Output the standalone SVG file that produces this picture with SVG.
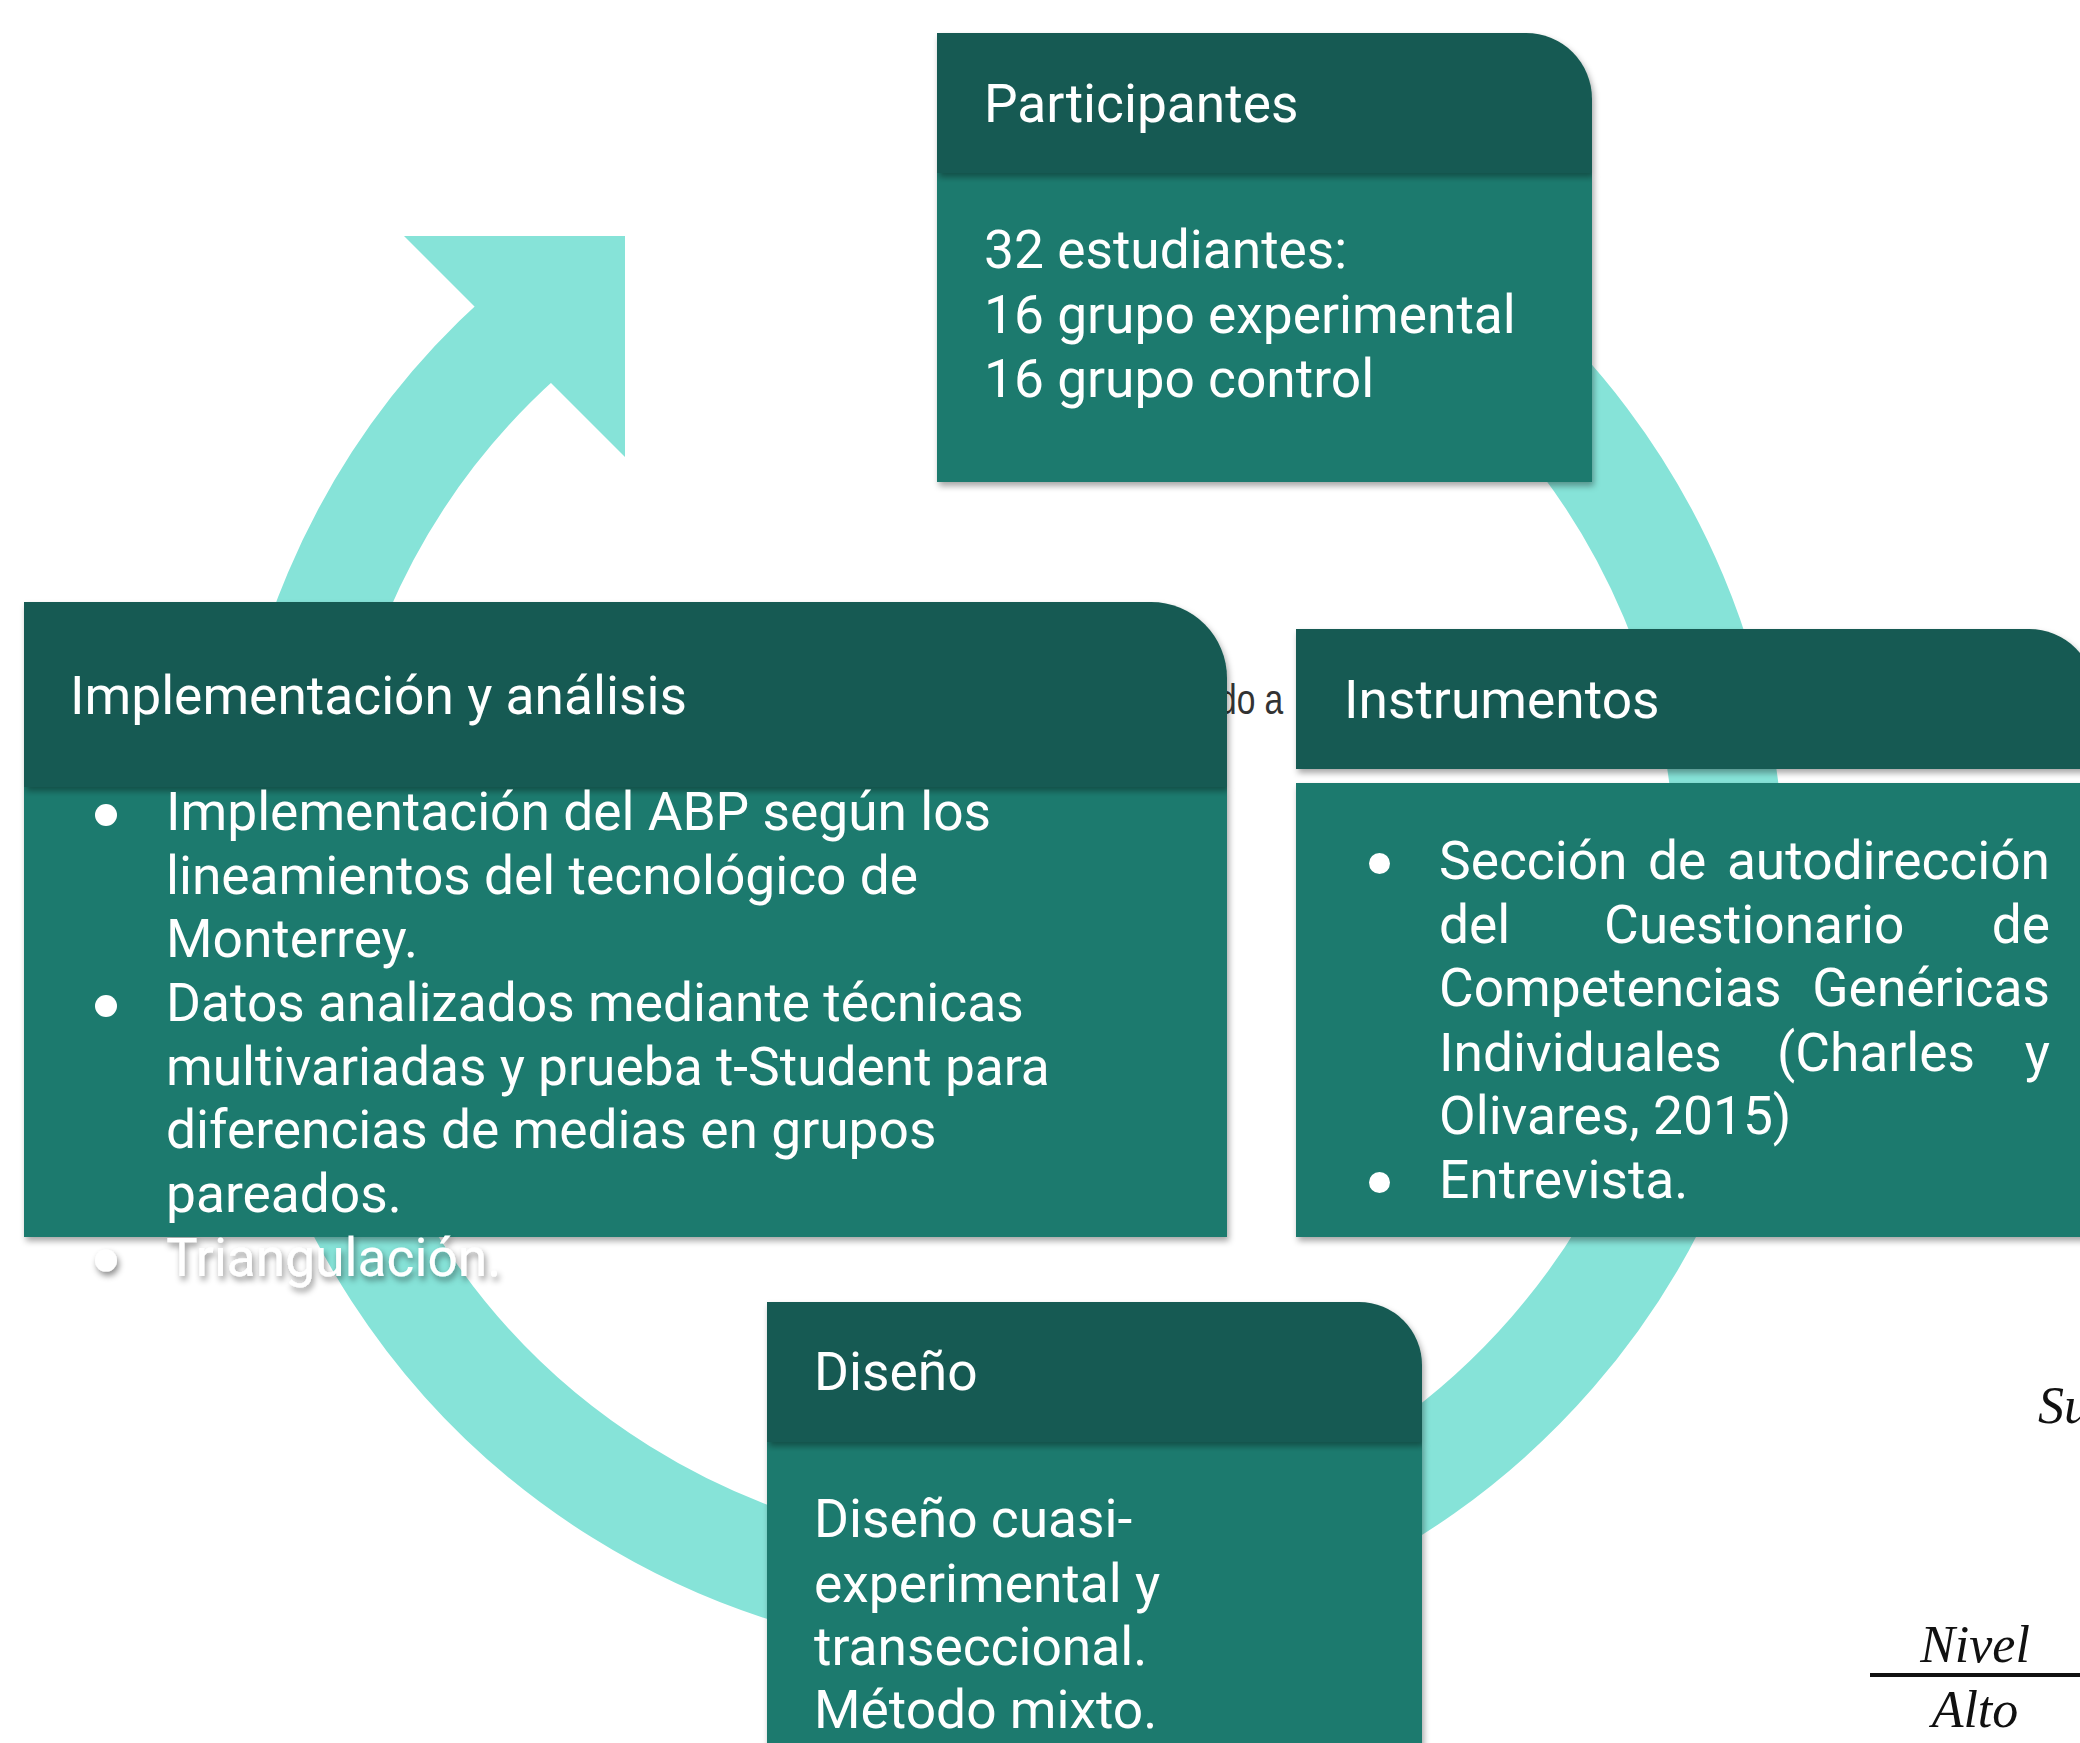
<svg xmlns="http://www.w3.org/2000/svg" width="2080" height="1743" viewBox="0 0 2080 1743">
<defs>
<filter id="sh" x="-5%" y="-5%" width="115%" height="120%">
<feDropShadow dx="2" dy="4" stdDeviation="3" flood-color="#000" flood-opacity="0.35"/>
</filter>
<filter id="tsh" x="-10%" y="-30%" width="130%" height="170%">
<feDropShadow dx="2" dy="4" stdDeviation="3" flood-color="#000" flood-opacity="0.45"/>
</filter>
<style>
.hdr{fill:#175a52;filter:url(#sh)}
.bdy{fill:#1c7a6e;filter:url(#sh)}
.t{font-family:Roboto,"Noto Sans","Liberation Sans",sans-serif;font-size:53.3px;fill:#fff}
.dot{fill:#fff}
.bg{font-family:"Liberation Serif",serif;font-style:italic;font-size:52px;fill:#111}
.ring{fill:none;stroke:#86e3d8;stroke-width:108}
</style>
</defs>
<rect x="0" y="0" width="2080" height="1743" fill="#fff"/>

<g id="background-text">
<text x="0" y="0" transform="translate(1218,714) scale(0.78,1)" font-family="Liberation Sans,Arial,sans-serif" font-size="43" fill="#333">do a</text>
<text class="bg" x="2038" y="1423" font-size="50">Su</text>
<text class="bg" x="1975" y="1662" text-anchor="middle">Nivel</text>
<line x1="1870" y1="1675" x2="2080" y2="1675" stroke="#111" stroke-width="4"/>
<text class="bg" x="1975" y="1727" text-anchor="middle">Alto</text>
</g>

<g id="connectors">
<path class="ring" d="M 1005 152 A 725 725 0 1 1 519.9 338.2"/>
<polygon points="404,236 625,236 625,457" fill="#86e3d8"/>
</g>

<g id="node-participantes">
<rect class="bdy" x="937" y="173" width="655" height="309"/>
<path class="hdr" d="M937 33 H1526 A66 66 0 0 1 1592 99 V173 H937 Z"/>
<text class="t" x="984" y="122">Participantes</text>
<text class="t" x="984" y="268">32 estudiantes:</text>
<text class="t" x="984" y="333">16 grupo experimental</text>
<text class="t" x="984" y="397">16 grupo control</text>
</g>

<g id="node-implementacion">
<rect class="bdy" x="24" y="787" width="1203" height="450"/>
<path class="hdr" d="M24 602 H1151 A76 76 0 0 1 1227 678 V787 H24 Z"/>
<text class="t" x="70" y="714">Implementación y análisis</text>
<circle class="dot" cx="106" cy="815" r="11"/>
<text class="t" x="166" y="830">Implementación del ABP según los</text>
<text class="t" x="166" y="893.7">lineamientos del tecnológico de</text>
<text class="t" x="166" y="957.3">Monterrey.</text>
<circle class="dot" cx="106" cy="1006" r="11"/>
<text class="t" x="166" y="1021">Datos analizados mediante técnicas</text>
<text class="t" x="166" y="1084.6">multivariadas y prueba t-Student para</text>
<text class="t" x="166" y="1148.3">diferencias de medias en grupos</text>
<text class="t" x="166" y="1211.9">pareados.</text>
<g filter="url(#tsh)">
<circle class="dot" cx="106" cy="1260.6" r="11"/>
<text class="t" x="166" y="1275.6">Triangulación.</text>
</g>
</g>

<g id="node-instrumentos">
<rect class="bdy" x="1296" y="783" width="820" height="454"/>
<path class="hdr" d="M1296 629 H2029 A66 66 0 0 1 2095 695 V769 H1296 Z"/>
<text class="t" x="1344" y="718">Instrumentos</text>
<circle class="dot" cx="1379.5" cy="863.5" r="10.5"/>
<text class="t" x="1439" y="879">Sección</text>
<text class="t" x="1648" y="879">de</text>
<text class="t" x="2050" y="879" text-anchor="end">autodirección</text>
<text class="t" x="1439" y="943">del</text>
<text class="t" x="1604" y="943">Cuestionario</text>
<text class="t" x="2050" y="943" text-anchor="end">de</text>
<text class="t" x="1439" y="1006">Competencias</text>
<text class="t" x="2050" y="1006" text-anchor="end">Genéricas</text>
<text class="t" x="1439" y="1071">Individuales</text>
<text class="t" x="1777" y="1071">(Charles</text>
<text class="t" x="2050" y="1071" text-anchor="end">y</text>
<text class="t" x="1439" y="1133.5">Olivares, 2015)</text>
<circle class="dot" cx="1379.5" cy="1182.5" r="10.5"/>
<text class="t" x="1439" y="1198">Entrevista.</text>
</g>

<g id="node-diseno">
<rect class="bdy" x="767" y="1442" width="655" height="330"/>
<path class="hdr" d="M767 1302 H1359 A63 63 0 0 1 1422 1365 V1442 H767 Z"/>
<text class="t" x="814" y="1390">Diseño</text>
<text class="t" x="814" y="1537">Diseño cuasi-</text>
<text class="t" x="814" y="1601.7">experimental y</text>
<text class="t" x="814" y="1665">transeccional.</text>
<text class="t" x="814" y="1728">Método mixto.</text>
</g>
</svg>
